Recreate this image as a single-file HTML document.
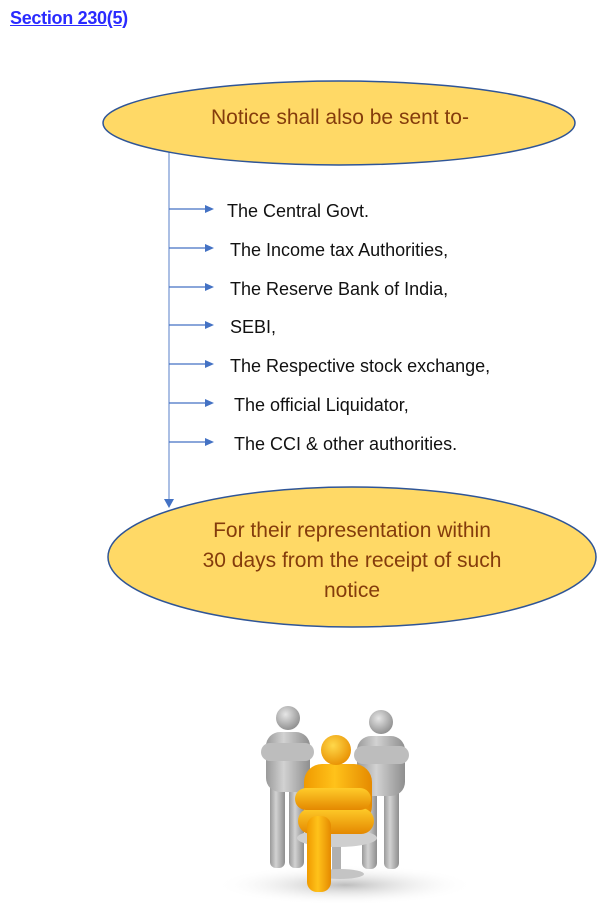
<!DOCTYPE html>
<html>
<head>
<meta charset="utf-8">
<style>
  html,body{margin:0;padding:0;background:#fff;}
  body{width:600px;height:905px;overflow:hidden;position:relative;font-family:"Liberation Sans",sans-serif;}
  .title{position:absolute;left:10px;top:8px;font-size:18px;font-weight:bold;color:#2a2aff;text-decoration:underline;letter-spacing:-0.3px;}
  svg{position:absolute;left:0;top:0;}
</style>
</head>
<body>
<div class="title">Section 230(5)</div>
<svg width="600" height="905" viewBox="0 0 600 905" xmlns="http://www.w3.org/2000/svg">
  <defs>
    <radialGradient id="gHead" cx="0.4" cy="0.35" r="0.7">
      <stop offset="0" stop-color="#e6e6e6"/>
      <stop offset="1" stop-color="#8c8c8c"/>
    </radialGradient>
    <linearGradient id="gBody" x1="0" x2="1" y1="0" y2="0">
      <stop offset="0" stop-color="#9a9a9a"/>
      <stop offset="0.4" stop-color="#d2d2d2"/>
      <stop offset="1" stop-color="#8e8e8e"/>
    </linearGradient>
    <radialGradient id="oHead" cx="0.4" cy="0.35" r="0.7">
      <stop offset="0" stop-color="#ffd84a"/>
      <stop offset="1" stop-color="#e88f00"/>
    </radialGradient>
    <linearGradient id="oBody" x1="0" x2="1" y1="0" y2="0">
      <stop offset="0" stop-color="#f09a00"/>
      <stop offset="0.45" stop-color="#ffc21a"/>
      <stop offset="1" stop-color="#e58a00"/>
    </linearGradient>
    <linearGradient id="oBar" x1="0" x2="0" y1="0" y2="1">
      <stop offset="0" stop-color="#ffcc2a"/>
      <stop offset="1" stop-color="#e48800"/>
    </linearGradient>
    <radialGradient id="floor" cx="0.5" cy="0.5" r="0.5">
      <stop offset="0" stop-color="#bdbdbd"/>
      <stop offset="1" stop-color="#ffffff" stop-opacity="0"/>
    </radialGradient>
  </defs>

  <!-- vertical connector -->
  <line x1="169" y1="130" x2="169" y2="500" stroke="#8faadc" stroke-width="1.5"/>
  <polygon points="164,499 174,499 169,508" fill="#4472c4"/>

  <!-- top ellipse -->
  <ellipse cx="339" cy="123" rx="236" ry="42" fill="#ffd966" stroke="#2f5597" stroke-width="1.5"/>
  <text x="340" y="124" text-anchor="middle" font-family="Liberation Sans, sans-serif" font-size="21" fill="#843c0c">Notice shall also be sent to-</text>

  <!-- horizontal arrows -->
  <g stroke="#4472c4" stroke-width="1.3">
    <line x1="169" y1="209" x2="207" y2="209"/>
    <line x1="169" y1="248" x2="207" y2="248"/>
    <line x1="169" y1="287" x2="207" y2="287"/>
    <line x1="169" y1="325" x2="207" y2="325"/>
    <line x1="169" y1="364" x2="207" y2="364"/>
    <line x1="169" y1="403" x2="207" y2="403"/>
    <line x1="169" y1="442" x2="207" y2="442"/>
  </g>
  <g fill="#4472c4">
    <polygon points="205,205 214,209 205,213"/>
    <polygon points="205,244 214,248 205,252"/>
    <polygon points="205,283 214,287 205,291"/>
    <polygon points="205,321 214,325 205,329"/>
    <polygon points="205,360 214,364 205,368"/>
    <polygon points="205,399 214,403 205,407"/>
    <polygon points="205,438 214,442 205,446"/>
  </g>
  <g font-family="Liberation Sans, sans-serif" font-size="18" fill="#111">
    <text x="227" y="217">The Central Govt.</text>
    <text x="230" y="256">The Income tax Authorities,</text>
    <text x="230" y="295">The Reserve Bank of India,</text>
    <text x="230" y="333">SEBI,</text>
    <text x="230" y="372">The Respective stock exchange,</text>
    <text x="234" y="411">The official Liquidator,</text>
    <text x="234" y="450">The CCI &amp; other authorities.</text>
  </g>

  <!-- bottom ellipse -->
  <ellipse cx="352" cy="557" rx="244" ry="70" fill="#ffd966" stroke="#2f5597" stroke-width="1.5"/>
  <g font-family="Liberation Sans, sans-serif" font-size="21" fill="#843c0c" text-anchor="middle">
    <text x="352" y="537">For their representation within</text>
    <text x="352" y="567">30 days from the receipt of such</text>
    <text x="352" y="597">notice</text>
  </g>

  <!-- illustration -->
  <ellipse cx="345" cy="885" rx="130" ry="20" fill="url(#floor)"/>
  <!-- left gray figure -->
  <rect x="270" y="780" width="15" height="88" rx="6" fill="url(#gBody)"/>
  <rect x="289" y="780" width="15" height="88" rx="6" fill="url(#gBody)"/>
  <rect x="266" y="732" width="44" height="60" rx="14" fill="url(#gBody)"/>
  <rect x="261" y="743" width="53" height="18" rx="9" fill="#bdbdbd"/>
  <circle cx="288" cy="718" r="12" fill="url(#gHead)"/>
  <!-- right gray figure -->
  <rect x="362" y="785" width="15" height="84" rx="6" fill="url(#gBody)"/>
  <rect x="384" y="785" width="15" height="84" rx="6" fill="url(#gBody)"/>
  <rect x="357" y="736" width="48" height="60" rx="14" fill="url(#gBody)"/>
  <rect x="354" y="746" width="55" height="18" rx="9" fill="#bdbdbd"/>
  <circle cx="381" cy="722" r="12" fill="url(#gHead)"/>
  <!-- chair -->
  <rect x="332" y="840" width="9" height="30" fill="#b0b0b0"/>
  <ellipse cx="340" cy="874" rx="24" ry="5" fill="#c4c4c4"/>
  <ellipse cx="337" cy="838" rx="40" ry="9" fill="#cfcfcf"/>
  <!-- orange figure -->
  <rect x="304" y="764" width="68" height="60" rx="18" fill="url(#oBody)"/>
  <rect x="298" y="808" width="76" height="26" rx="13" fill="url(#oBar)"/>
  <rect x="295" y="788" width="76" height="22" rx="11" fill="url(#oBar)"/>
  <rect x="307" y="816" width="24" height="76" rx="10" fill="url(#oBody)"/>
  <circle cx="336" cy="750" r="15" fill="url(#oHead)"/>
</svg>
</body>
</html>
